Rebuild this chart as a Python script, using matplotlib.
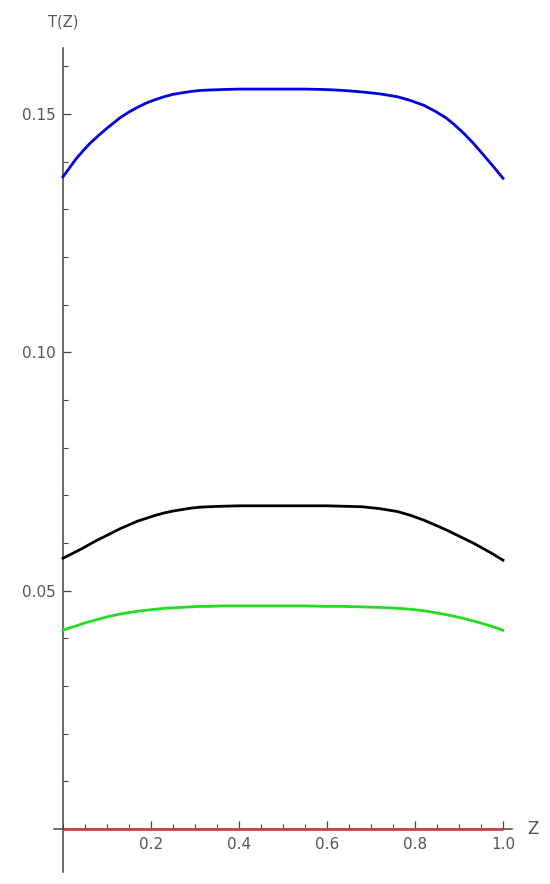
import matplotlib
matplotlib.use('Agg')
import matplotlib.pyplot as plt
from matplotlib.ticker import MultipleLocator, FixedLocator

# values
z = [0.0, 0.015, 0.03, 0.045, 0.06, 0.08, 0.10, 0.115, 0.13, 0.15,
     0.17, 0.19, 0.21, 0.23, 0.25, 0.27, 0.29, 0.31, 0.33, 0.36,
     0.40, 0.45, 0.50, 0.55, 0.60, 0.64, 0.68, 0.72, 0.76, 0.79,
     0.82, 0.845, 0.87, 0.89, 0.91, 0.93, 0.95, 0.975, 1.0]
t_blue = [0.1368, 0.1387, 0.1406, 0.1422, 0.1437, 0.1454, 0.1470, 0.1481, 0.1492, 0.1504,
          0.1514, 0.1523, 0.1530, 0.1536, 0.1541, 0.1544, 0.1547, 0.1549, 0.1550, 0.1551,
          0.1552, 0.1552, 0.1552, 0.1552, 0.1551, 0.1549, 0.1546, 0.1542, 0.1536, 0.1528,
          0.1518, 0.1506, 0.1492, 0.1477, 0.1460, 0.1441, 0.1420, 0.1393, 0.1365]
t_black = [0.0568, 0.0575, 0.0582, 0.0589, 0.0597, 0.0607, 0.0616, 0.0623, 0.0630, 0.0638,
           0.0646, 0.0652, 0.0658, 0.0663, 0.0667, 0.0670, 0.0673, 0.0675, 0.0676, 0.0677,
           0.0678, 0.0678, 0.0678, 0.0678, 0.0678, 0.0677, 0.0676, 0.0672, 0.0666, 0.0658,
           0.0648, 0.0638, 0.0628, 0.0619, 0.0610, 0.0601, 0.0591, 0.0578, 0.0564]
t_green = [0.0417, 0.0422, 0.0426, 0.0431, 0.0435, 0.0440, 0.0445, 0.0448, 0.0451, 0.0454,
           0.0457, 0.0459, 0.0461, 0.0463, 0.0464, 0.0465, 0.0466, 0.0467, 0.0467, 0.0468,
           0.0468, 0.0468, 0.0468, 0.0468, 0.0467, 0.0467, 0.0466, 0.0465, 0.0463, 0.0461,
           0.0458, 0.0454, 0.0450, 0.0446, 0.0442, 0.0437, 0.0432, 0.0425, 0.0417]
t_red = [0.0] * len(z)

y_major = [0.05, 0.10, 0.15]
x_major = [0.2, 0.4, 0.6, 0.8, 1.0]

fig = plt.figure(figsize=(5.5, 8.84), dpi=100)
ax = fig.add_axes([0.0985, 0.0136, 0.832, 0.932])

ax.plot(z, t_red, color='#cc4444', lw=2.0, solid_capstyle='butt', zorder=3)
ax.plot(z, t_green, color='#22dd22', lw=2.0, zorder=3)
ax.plot(z, t_black, color='black', lw=2.0, zorder=3)
ax.plot(z, t_blue, color='#0000dd', lw=2.0, zorder=3)

ax.set_xlim(-0.02, 1.02)
ax.set_ylim(-0.009, 0.1638)

for s in ['top', 'right']:
    ax.spines[s].set_visible(False)
ax.spines['left'].set_position(('data', 0))
ax.spines['bottom'].set_position(('data', 0))
for s in ['left', 'bottom']:
    ax.spines[s].set_color('#444444')
    ax.spines[s].set_linewidth(1.1)

ax.xaxis.set_major_locator(FixedLocator(x_major))
ax.xaxis.set_minor_locator(MultipleLocator(0.05))
ax.yaxis.set_major_locator(FixedLocator(y_major))
ax.yaxis.set_minor_locator(MultipleLocator(0.01))
ax.xaxis.set_major_formatter(plt.FuncFormatter(lambda v, p: f"{v:.1f}"))
ax.yaxis.set_major_formatter(plt.FuncFormatter(lambda v, p: f"{v:.2f}"))

ax.tick_params(which='major', direction='in', length=6, width=0.9, color='#444444',
               labelsize=11, labelcolor='#555555')
ax.tick_params(which='minor', direction='in', length=3.5, width=0.8, color='#444444')
ax.tick_params(axis='x', which='major', pad=6)
ax.tick_params(axis='y', which='major', pad=5)

ax.text(0.0, 0.1692, 'T(Z)', ha='center', va='center', fontsize=10.5, color='#555555',
        clip_on=False)
ax.text(1.068, 0.0, 'Z', ha='center', va='center', fontsize=12, color='#555555',
        clip_on=False)

fig.savefig('out.png', dpi=100)
